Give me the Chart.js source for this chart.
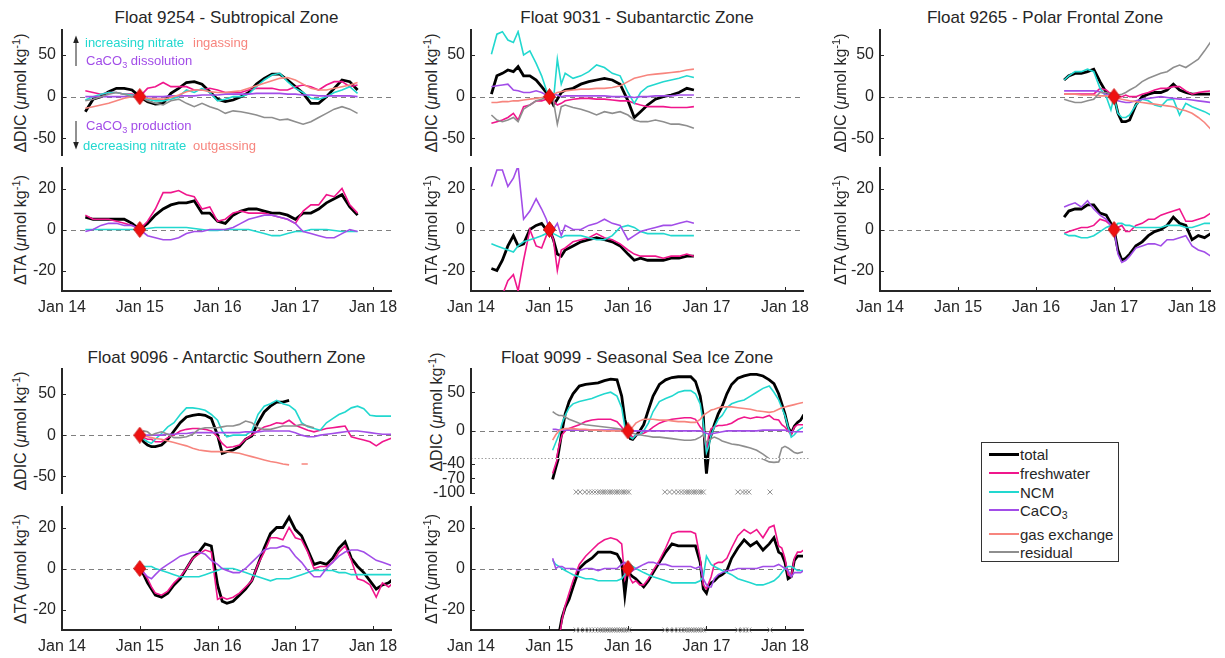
<!DOCTYPE html>
<html>
<head>
<meta charset="utf-8">
<script src="https://cdn.jsdelivr.net/npm/chart.js@4.4.1/dist/chart.umd.min.js"></script>
<style>
  body { margin: 0; background: #fff; }
  #fig { position: relative; width: 1225px; height: 658px; overflow: hidden;
         font-family: "Liberation Sans", Arial, Helvetica, sans-serif; color: #262626; }
  #fig canvas { position: absolute; }
  .title { position: absolute; font-size: 17px; white-space: nowrap; transform: translate(-50%, -50%); }
  .ylab { position: absolute; font-size: 16px; white-space: nowrap; transform: translate(-50%, -50%) rotate(-90deg); }
  .note { position: absolute; font-size: 13px; white-space: nowrap; transform: translateY(-50%); }
  sub { font-size: 70%; vertical-align: -0.35em; line-height: 0; }
  sup { font-size: 70%; vertical-align: 0.55em; line-height: 0; }
  #legend { position: absolute; left: 981px; top: 442px; width: 136px; height: 118px;
            border: 1.5px solid #333; background: #fff; }
  #legend .row { position: absolute; left: 0; font-size: 15px; white-space: nowrap; }
  #legend .sw { position: absolute; left: 7px; width: 30px; }
  #legend .tx { position: absolute; left: 38px; transform: translateY(-50%); }
</style>
</head>
<body>
<div id="fig">
  <svg width="1225" height="658" style="position:absolute;left:0;top:0">
    <line x1="76" y1="66" x2="76" y2="41" stroke="#222" stroke-width="1"/>
    <path d="M73.2,43 L76,35.5 L78.8,43 Z" fill="#222"/>
    <line x1="76" y1="121" x2="76" y2="144" stroke="#222" stroke-width="1"/>
    <path d="M73.2,142 L76,149.5 L78.8,142 Z" fill="#222"/>
  </svg>
</div>
<script>
// ---- axes ----
const yearTicks = [2014, 2015, 2016, 2017, 2018];
const yearLabels = ['Jan 14', 'Jan 15', 'Jan 16', 'Jan 17', 'Jan 18'];
const dicTicks = [-50, 0, 50];
const taTicks = [-20, 0, 20];
const dicUpperTicks = [0, 50];
const dicLowerTicks = [-100, -70, -40];

// ---- Float 9254 ----
const t9254 = [2014.3, 2014.4, 2014.5, 2014.6, 2014.7, 2014.8, 2014.9, 2015.0, 2015.1, 2015.2, 2015.3, 2015.4,
  2015.5, 2015.6, 2015.7, 2015.8, 2015.9, 2016.0, 2016.1, 2016.2, 2016.3, 2016.4, 2016.5, 2016.6, 2016.7,
  2016.8, 2016.9, 2017.0, 2017.1, 2017.2, 2017.3, 2017.4, 2017.5, 2017.6, 2017.7, 2017.8];
const dic9254Total = [-18, -3, 0, 6, 10, 10, 8, 0, -6, -9, -8, 4, 10, 17, 18, 15, 6, -3, -6, -4, 0, 5, 15, 22, 27, 27, 20, 12, 4, -8, -8, 0, 10, 20, 18, 8];
const dic9254Fresh = [7, 5, 3, 5, 5, 3, 3, 0, 10, 12, 17, 12, 12, 12, 8, 8, 10, 8, 5, 5, 5, 8, 10, 10, 10, 8, 8, 12, 14, 12, 8, 14, 18, 18, 12, 14];
const dic9254Ncm = [-4, 0, 3, 5, 5, 3, 2, 0, -3, -5, -5, -3, 0, 8, 5, 10, 5, -5, -3, 0, 0, 3, 12, 20, 26, 28, 18, 10, 5, -2, -3, 0, 5, 8, 12, 4];
const dic9254Caco3 = [0, 0, 0, 0, 0, 0, 0, 0, 0, 0, 0, 1, 1, 1, 1, 2, 2, 2, 3, 3, 3, 3, 4, 4, 4, 4, 3, 3, 2, 2, 1, 1, 1, 1, 1, 0];
const dic9254Gas = [-14, -12, -10, -8, -5, -2, 0, 0, -2, -3, -3, -1, 2, 6, 8, 8, 6, 5, 5, 6, 7, 10, 13, 16, 19, 22, 23, 20, 15, 10, 8, 8, 10, 12, 14, 17];
const dic9254Resid = [-5, -3, 0, 3, 5, 3, 0, 0, -5, -8, -10, -5, -3, -8, -12, -8, -12, -15, -20, -17, -18, -20, -22, -25, -25, -28, -27, -30, -33, -30, -25, -20, -15, -12, -15, -20];
const ta9254Total = [6, 5, 5, 5, 5, 5, 3, 0, 3, 7, 10, 12, 13, 13, 14, 8, 8, 4, 3, 7, 9, 10, 10, 9, 8, 8, 7, 5, 8, 8, 10, 13, 15, 17, 11, 7];
const ta9254Fresh = [7, 5, 5, 5, 4, 3, 2, 0, 4, 10, 18, 18, 19, 17, 16, 10, 11, 4, 5, 8, 9, 8, 8, 8, 7, 6, 5, 3, 9, 12, 12, 17, 16, 20, 12, 8];
const ta9254Ncm = [0, 0, 0, 0, 0, 0, 0, 0, 0.5, 1, 1, 1, 1, 1, 0.5, 0, -0.5, -0.5, 0, 0, 0, 0, -1, -2, -3, -3, -2, -1, -1, 0, 0, 0, -0.5, -1, -1, -1];
const ta9254Caco3 = [-1, 0, 2, 3, 3, 2, 2, 0, -3, -4, -5, -5, -4, -2, -1, -1, 0, 0, 0, 1, 3, 5, 6, 7, 7, 6, 5, 3, -1, -2, -3, -4, -4, -2, 0, -1];

// ---- Float 9031 ----
const t9031 = [2014.26, 2014.33, 2014.40, 2014.47, 2014.54, 2014.60, 2014.67, 2014.75, 2014.83, 2014.90, 2014.96,
  2015.00, 2015.05, 2015.10, 2015.15, 2015.20, 2015.30, 2015.40, 2015.50, 2015.60, 2015.70, 2015.80, 2015.90,
  2016.00, 2016.08, 2016.16, 2016.25, 2016.35, 2016.45, 2016.55, 2016.65, 2016.75, 2016.84];
const dic9031Total = [3, 25, 28, 32, 30, 36, 25, 25, 20, 12, 5, 0, -10, -3, 5, 8, 10, 15, 18, 20, 22, 20, 15, -5, -25, -18, -10, -3, 0, 2, 5, 10, 8];
const dic9031Fresh = [-32, -30, -28, -25, -20, -28, -12, -10, -5, -5, -3, 0, -5, -10, -8, -5, -3, -2, -2, -3, -3, -4, -5, -5, -8, -10, -12, -12, -12, -13, -13, -13, -12];
const dic9031Ncm = [51, 75, 78, 68, 65, 78, 50, 55, 40, 25, 8, 0, -5, 45, 15, 28, 22, 25, 30, 38, 35, 28, 25, 5, -8, 5, 12, 15, 18, 20, 22, 25, 23];
const dic9031Caco3 = [12, 13, 14, 15, 8, 7, 5, 5, 7, 5, 2, 0, 3, 2, 0, 1, 1, 1, 1, 1, 1, 0, 0, 0, -1, 0, 0, 1, 1, 1, 2, 2, 2];
const dic9031Gas = [-7, -7, -6, -6, -5, -5, -4, -3, -2, -1, 0, 0, 3, 5, 6, 7, 8, 9, 9, 10, 10, 11, 13, 18, 22, 24, 26, 27, 28, 29, 30, 32, 33];
const dic9031Resid = [-22, -28, -30, -28, -25, -30, -15, -10, -5, -3, 0, 0, -5, -33, -12, -10, -13, -15, -18, -22, -18, -20, -18, -22, -28, -30, -30, -28, -30, -33, -33, -35, -38];
const ta9031Total = [-19, -20, -15, -8, -3, -8, -7, 0, 2, 3, 0, 0, -5, -12, -13, -10, -8, -6, -5, -4, -5, -6, -8, -12, -15, -14, -15, -15, -15, -14, -14, -13, -13];
const ta9031Fresh = [-40, -38, -32, -25, -22, -30, -15, 0, -8, -9, -3, 0, -5, -20, -10, -9, -6, -5, -4, -2, -4, -5, -7, -10, -12, -13, -13, -13, -14, -13, -13, -12, -13];
const ta9031Ncm = [-7, -8, -9, -10, -11, -8, -6, -5, -4, -3, -2, 0, -2, -3, -4, -3, -3, -3, -4, -5, -5, -3, 1, 2, 1, -1, -2, -2, -2, -3, -3, -3, -3];
const ta9031Caco3 = [21, 29, 29, 21, 25, 31, 5, 9, 15, 10, 5, 0, 0, 3, -3, 2, 0, 0, 2, 3, 5, 3, 2, -5, -3, -1, 0, 1, 2, 2, 3, 4, 3];

// ---- Float 9265 ----
const t9265 = [2016.36, 2016.42, 2016.50, 2016.58, 2016.66, 2016.74, 2016.82, 2016.90, 2016.96, 2017.00,
  2017.05, 2017.10, 2017.15, 2017.20, 2017.28, 2017.36, 2017.44, 2017.52, 2017.60, 2017.68, 2017.76, 2017.84, 2017.92,
  2018.00, 2018.08, 2018.16, 2018.24];
const dic9265Total = [20, 25, 28, 28, 30, 33, 18, 5, 3, 0, -20, -30, -30, -28, -10, 0, 3, 5, 5, 8, 15, 8, 5, 3, 3, 3, 3];
const dic9265Fresh = [3, 3, 3, 3, 3, 3, 10, 8, 3, 0, 0, 0, 2, 0, 0, 3, 5, 8, 10, 10, 12, 12, 7, 3, 5, 6, 7];
const dic9265Ncm = [20, 25, 30, 30, 33, 30, 10, 0, -16, 0, -20, -25, -25, -22, -10, -3, -5, -10, -12, -4, -3, -22, -8, -12, -15, -18, -22];
const dic9265Caco3 = [7, 7, 7, 7, 7, 7, 6, 3, 2, 0, -5, -6, -7, -7, -5, -3, -2, -1, 0, -1, -2, -3, -3, -4, -5, -6, -7];
const dic9265Gas = [3, 3, 3, 2, 2, 2, 1, 1, 0, 0, -2, -3, -4, -5, -6, -7, -8, -9, -10, -11, -12, -15, -17, -20, -25, -31, -39];
const dic9265Resid = [-3, -5, -7, -7, -5, -3, 5, 5, 3, 0, 2, 3, 5, 8, 12, 18, 22, 25, 28, 30, 35, 38, 35, 40, 45, 55, 66];
const ta9265Total = [6, 9, 10, 10, 12, 12, 8, 7, 3, 0, -10, -15, -14, -12, -8, -6, -3, -1, 0, 2, 6, 3, 2, -5, -3, -4, -2];
const ta9265Fresh = [-2, -1, 0, 1, 1, 2, 5, 4, 2, 0, 1, 2, -1, -1, 2, 3, 5, 5, 7, 8, 9, 10, 4, 4, 5, 6, 8];
const ta9265Ncm = [-2, -3, -3, -4, -4, -3, -1, 1, 2, 1, 3, 3, 2, 2, 1, 1, 1, 1, 1, 2, 2, 2, 1, 1, 2, 3, 3];
const ta9265Caco3 = [11, 12, 13, 11, 14, 10, 7, 5, 2, 0, -12, -16, -15, -13, -9, -8, -7, -7, -8, -5, -5, -4, -3, -8, -10, -11, -13];

// ---- Float 9096 ----
const t9096 = [2015.00, 2015.05, 2015.10, 2015.15, 2015.20, 2015.28, 2015.36, 2015.44, 2015.52, 2015.60, 2015.68, 2015.76, 2015.84, 2015.92,
  2016.00, 2016.06, 2016.12, 2016.20, 2016.28, 2016.36, 2016.44, 2016.52, 2016.60, 2016.68, 2016.76, 2016.84, 2016.92,
  2017.00, 2017.08, 2017.16, 2017.24, 2017.32, 2017.40, 2017.48, 2017.56, 2017.64, 2017.72, 2017.80, 2017.88, 2017.96,
  2018.04, 2018.12, 2018.20, 2018.26];
const dic9096Total = [0, -8, -12, -14, -14, -12, -5, 5, 15, 22, 24, 25, 24, 20,
  0, -22, -20, -18, -14, -5, -1, 15, 28, 35, 40, 40, 42,
  null, null, null, null, null, null, null, null, null, null, null, null, null,
  null, null, null, null];
const dic9096Fresh = [0, -3, -5, -5, -8, -8, -3, 0, 5, 7, 8, 8, 7, 5,
  -2, -10, -15, -14, -12, -5, 0, 5, 10, 12, 15, 14, 18,
  12, 9, 6, 4, 6, 8, 9, 10, 11, -2, -4, -6, -8,
  -13, -8, -5, -3];
const dic9096Ncm = [0, -5, -8, -10, -5, 2, 10, 15, 25, 33, 33, 32, 30, 25,
  18, 5, -2, 0, 0, 0, 5, 25, 35, 38, 42, 38, 36,
  30, 15, 10, 8, 6, 15, 20, 25, 28, 33, 35, 32, 24,
  23, 23, 23, 23];
const dic9096Caco3 = [0, 0, 0, 0, 0, 0, 1, 1, 2, 2, 3, 3, 3, 3,
  3, 3, 3, 3, 3, 4, 4, 4, 5, 5, 5, 5, 5,
  3, 0, -2, -2, 0, 1, 2, 3, 4, 5, 5, 4, 3,
  2, 1, 1, 1];
const dic9096Gas = [0, -1, -2, -3, -4, -5, -7, -9, -11, -13, -16, -18, -19, -20,
  -20, -20, -20, -21, -22, -24, -26, -28, -30, -32, -33, -35, -36,
  null, -35, -35, null, null, null, null, null, null, null, null, null, null,
  null, null, null, null];
const dic9096Resid = [0, 5, 4, 0, 2, 4, 1, -3, -3, -2, 1, 7, 9, 9,
  9, 10, 11, 11, 13, 17, 15, 9, 7, 7, 9, 11, 11,
  11, 13, 11, 9, null, null, null, null, null, null, null, null, null,
  null, null, null, null];
const ta9096Total = [0, -3, -7, -10, -13, -14, -12, -8, -5, 0, 5, 8, 12, 11,
  -8, -16, -17, -16, -13, -10, -6, 2, 10, 17, 20, 20, 25,
  19, 16, 9, 2, 3, 2, 5, 10, 13, 5, 1, -2, -6,
  -10, -8, -7, -5];
const ta9096Fresh = [0, -2, -5, -9, -12, -13, -11, -7, -4, 0, 5, 7, 9, 8,
  -15, -14, -15, -14, -12, -9, -6, 2, 8, 15, 15, 14, 20,
  15, 14, 8, 0, 1, 1, 3, 8, 11, 4, -5, -6, -8,
  -14, -7, -9, -7];
const ta9096Ncm = [1, 1, 1, 1, 0, -1, -2, -3, -4, -4, -4, -4, -3, -2,
  -1, 0, 0, 0, -1, -2, -3, -4, -5, -6, -5, -5, -5,
  -4, -3, -2, -1, -1, -1, -1, -2, -2, -3, -3, -3, -3,
  -3, -3, -3, -3];
const ta9096Caco3 = [0, -2, -4, -5, -3, 0, 2, 4, 6, 7, 8, 8, 7, 4,
  2, 0, -1, -2, -2, 0, 3, 6, 9, 10, 10, 11, 10,
  6, 3, -1, -4, -4, 0, 3, 6, 8, 9, 9, 8, 6,
  4, 3, 2, 1];

// ---- Float 9099 ----
const t9099 = [2015.04, 2015.08, 2015.12, 2015.16, 2015.20, 2015.25, 2015.30, 2015.38, 2015.46, 2015.54, 2015.62, 2015.70, 2015.78, 2015.86, 2015.92, 2015.96,
  2016.00, 2016.03, 2016.06, 2016.10, 2016.15, 2016.20, 2016.26, 2016.32, 2016.40, 2016.48, 2016.56, 2016.64, 2016.72, 2016.80, 2016.86, 2016.92, 2016.96,
  2017.00, 2017.03, 2017.06, 2017.10, 2017.15, 2017.20, 2017.26, 2017.32, 2017.40, 2017.48, 2017.56, 2017.64, 2017.72, 2017.80, 2017.86, 2017.92, 2017.96,
  2018.00, 2018.04, 2018.08, 2018.12, 2018.16, 2018.20, 2018.24];
const dic9099Total = [-72, -48, -25, 0, 22, 38, 48, 58, 60, 61, 62, 65, 67, 66, 45, 15,
  0, -10, -11, -6, 0, 8, 27, 45, 60, 66, 69, 70, 70, 70, 64, 45, 19,
  -60, -15, -5, 8, 22, 32, 48, 60, 68, 71, 73, 73, 71, 66, 61, 48, 35,
  22, 5, -3, 6, 11, 14, 21];
const dic9099Fresh = [-60, -40, -20, -5, 0, 3, 5, 8, 12, 14, 15, 15, 15, 12, 5, -2,
  0, -5, -8, -6, -4, -3, 0, 5, 10, 13, 15, 16, 17, 17, 15, 5, 0,
  -25, -5, 3, 5, 7, 7, 8, 10, 15, 18, 16, 18, 17, 20, 15, 14, 8,
  5, 0, -5, 5, 8, 8, 8];
const dic9099Ncm = [-25, -15, -5, 10, 20, 30, 35, 38, 40, 42, 45, 48, 50, 45, 30, 5,
  -3, -8, -10, -5, -5, 0, 10, 25, 38, 42, 45, 50, 52, 52, 48, 35, 10,
  -28, -20, -5, 5, 15, 20, 30, 35, 38, 40, 45, 50, 55, 58, 50, 40, 30,
  20, 5, -8, -5, 0, 3, 5];
const dic9099Caco3 = [2, 2, 1, 1, 1, 1, 1, 1, 1, 1, 1, 1, 1, 1, 0, 0,
  0, 0, 0, 0, 0, 0, 0, 0, 0, 0, 0, 0, 0, 0, 0, 0, -1,
  -3, -4, -4, -3, -2, -1, 0, 0, 0, 0, 0, 0, 1, 1, 1, 1, 1,
  1, 0, -1, -1, -1, -1, -1];
const dic9099Gas = [-12, -5, 0, 2, 3, 3, 3, 2, 2, 1, 1, 0, 0, 0, 0, 0,
  0, 2, 5, 10, 13, 15, 15, 15, 14, 14, 13, 12, 12, 11, 11, 15, 20,
  23, 25, 27, 28, 30, 31, 31, 31, 30, 29, 28, 26, 25, 24, 25, 28, 30,
  31, 32, 33, 34, 35, 36, 37];
const dic9099Resid = [25, 22, 20, 20, 18, 15, 13, 10, 8, 7, 6, 5, 4, 3, 2, 1,
  0, -2, -3, -4, -5, -6, -7, -8, -8, -9, -10, -11, -12, -12, -11, -8, -5,
  -15, -12, -10, -8, -10, -13, -15, -17, -18, -20, -22, -25, -30, -36, -37, -36, -22,
  -20, -22, -25, -28, -29, -28, -27];
const ta9099Total = [-45, -38, -32, -24, -19, -15, -9, 0, 3, 5, 8, 8, 8, 7, 3, -13,
  0, -3, -4, -5, -7, -9, -6, -2, 3, 8, 12, 11, 11, 11, 11, 3, -10,
  -12, -8, -7, -6, -4, -3, -1, 5, 10, 14, 11, 13, 9, 12, 15, 8, 7,
  3, -5, -4, 4, 6, 6, 6];
const ta9099Fresh = [-45, -40, -35, -25, -18, -12, -6, 2, 6, 9, 12, 14, 15, 14, 12, -5,
  0, -5, -7, -6, -8, -8, -5, -1, 4, 10, 17, 18, 18, 18, 17, 5, -8,
  -10, -7, -4, 2, 3, 3, 5, 10, 16, 19, 17, 19, 15, 20, 21, 11, 10,
  5, -3, -4, 5, 8, 8, 9];
const ta9099Ncm = [4, 2, 1, 0, -1, -2, -3, -4, -5, -5, -6, -6, -6, -6, -5, -3,
  0, 2, 1, 0, -1, -2, -3, -4, -5, -6, -7, -7, -7, -7, -7, -6, -4,
  6, 4, 2, 1, 0, -1, -2, -3, -5, -6, -7, -8, -8, -7, -6, -4, -2,
  0, 1, 1, 0, -1, -1, -1];
const ta9099Caco3 = [5, 0, 1, 1, 0, 0, 0, -1, 0, 0, -1, 0, 0, 0, 2, 3,
  0, -2, -1, 0, 1, 2, 3, 3, 2, 2, 1, 1, 1, 1, 0, 1, -5,
  -8, -9, -9, -5, -3, -2, -1, -1, 0, 0, 0, 0, 1, 1, 1, 2, 1,
  0, -1, -4, -2, -2, -2, -1];
// profiles flagged as under sea ice
const iceDates = [2015.34, 2015.39, 2015.45, 2015.50, 2015.54, 2015.58, 2015.62, 2015.65, 2015.68, 2015.71,
  2015.74, 2015.77, 2015.80, 2015.83, 2015.86, 2015.89, 2015.92, 2015.95, 2015.98, 2016.01,
  2016.47, 2016.53, 2016.59, 2016.64, 2016.68, 2016.72, 2016.75, 2016.78, 2016.81, 2016.84,
  2016.87, 2016.90, 2016.93, 2016.96, 2017.40, 2017.46, 2017.50, 2017.54, 2017.81];

// reference dates (all terms zero there)
const ref9254 = 2015.0, ref9031 = 2015.0, ref9265 = 2017.0, ref9096 = 2015.0, ref9099 = 2016.0;

// ---- styling ----
const AXIS = '#262626';
const X_MIN = 2014, X_MAX = 2018.23;
const STYLE = {
  total: { label: 'total', color: '#000000', width: 2.8, order: 6 },
  fresh: { label: 'freshwater', color: '#F0168C', width: 1.6, order: 5 },
  ncm:   { label: 'NCM', color: '#22D8CF', width: 1.6, order: 4 },
  caco3: { label: 'CaCO<sub>3</sub>', color: '#A24DE8', width: 1.6, order: 3 },
  gas:   { label: 'gas exchange', color: '#F7857E', width: 1.6, order: 2 },
  resid: { label: 'residual', color: '#8E8E8E', width: 1.6, order: 1 }
};

Chart.defaults.font.family = '"Liberation Sans", Arial, Helvetica, sans-serif';
Chart.defaults.color = AXIS;

const diamondImg = document.createElement('canvas');
diamondImg.width = 13; diamondImg.height = 17;
(() => {
  const d = diamondImg.getContext('2d');
  d.beginPath();
  d.moveTo(6.5, 0.5); d.lineTo(12.5, 8.5); d.lineTo(6.5, 16.5); d.lineTo(0.5, 8.5);
  d.closePath();
  d.fillStyle = '#EE1111'; d.fill();
  d.strokeStyle = '#C80000'; d.lineWidth = 0.8; d.stroke();
})();

function line(t, values, key) {
  const s = STYLE[key];
  return {
    data: t.map((x, i) => ({ x, y: values[i] })),
    borderColor: s.color, borderWidth: s.width, pointRadius: 0,
    tension: 0, fill: false, order: s.order
  };
}
function refPoint(date) {
  return { data: [{ x: date, y: 0 }], showLine: false, pointStyle: diamondImg,
           pointRadius: 8, order: 0, clip: false };
}
function iceMarks(level) {
  return { data: iceDates.map(x => ({ x, y: level })), showLine: false, pointStyle: 'crossRot',
           pointRadius: 3.5, borderColor: '#8f8f8f', borderWidth: 1, order: 7, clip: false };
}

// dashed zero line, inward tick marks and the axis break line
const axisMarks = {
  id: 'axisMarks',
  beforeDatasetsDraw(chart, args, o) {
    if (!o.zero) return;
    const { ctx, chartArea: a, scales: { y } } = chart;
    const py = Math.round(y.getPixelForValue(0)) + 0.5;
    ctx.save();
    ctx.strokeStyle = '#808080'; ctx.lineWidth = 1; ctx.setLineDash([5, 4]);
    ctx.beginPath(); ctx.moveTo(a.left, py); ctx.lineTo(a.right, py); ctx.stroke();
    ctx.restore();
  },
  afterDraw(chart, args, o) {
    const { ctx, chartArea: a, scales: { x, y } } = chart;
    ctx.save();
    ctx.strokeStyle = AXIS; ctx.lineWidth = 1;
    ctx.beginPath();
    y.ticks.forEach(t => {
      const py = Math.round(y.getPixelForValue(t.value)) + 0.5;
      ctx.moveTo(a.left, py); ctx.lineTo(a.left + 4, py);
    });
    if (x.options.display) {
      x.ticks.forEach(t => {
        const px = Math.round(x.getPixelForValue(t.value)) + 0.5;
        ctx.moveTo(px, a.bottom); ctx.lineTo(px, a.bottom - 4);
      });
    }
    ctx.stroke();
    if (o.breakLine) {
      ctx.strokeStyle = '#a0a0a0'; ctx.setLineDash([1.5, 2]);
      ctx.beginPath(); ctx.moveTo(a.left, a.bottom + 0.5); ctx.lineTo(a.right + 6, a.bottom + 0.5); ctx.stroke();
    }
    ctx.restore();
  }
};

const fig = document.getElementById('fig');
const PAD_L = 52, PAD_T = 12, PAD_R = 16, PAD_B = 12, X_H = 30;

function makeChart(box, yRange, yTicks, datasets, opts = {}) {
  const cv = document.createElement('canvas');
  cv.width = PAD_L + box.right - box.left + PAD_R;
  cv.height = PAD_T + box.bottom - box.top + (opts.showX ? X_H : PAD_B);
  cv.style.left = (box.left - PAD_L) + 'px';
  cv.style.top = (box.top - PAD_T) + 'px';
  fig.appendChild(cv);
  return new Chart(cv, {
    type: 'line',
    data: { datasets },
    options: {
      responsive: false,
      animation: false,
      events: [],
      layout: { padding: { left: 0, top: PAD_T, right: PAD_R, bottom: opts.showX ? 0 : PAD_B } },
      plugins: {
        legend: { display: false },
        tooltip: { enabled: false },
        axisMarks: { zero: opts.zero !== false, breakLine: !!opts.breakLine }
      },
      scales: {
        x: {
          type: 'linear', min: X_MIN, max: X_MAX, display: !!opts.showX,
          afterBuildTicks: s => { s.ticks = yearTicks.map(v => ({ value: v })); },
          afterFit: s => { if (opts.showX) s.height = X_H; s.paddingLeft = 0; s.paddingRight = 0; },
          ticks: { callback: (v, i) => yearLabels[i], padding: 7, maxRotation: 0, autoSkip: false,
                   font: { size: 16 }, color: AXIS },
          grid: { drawOnChartArea: false, drawTicks: false },
          border: { color: AXIS, width: 2 }
        },
        y: {
          type: 'linear', min: yRange[0], max: yRange[1],
          afterBuildTicks: s => { s.ticks = yTicks.map(v => ({ value: v })); },
          afterFit: s => { s.width = PAD_L; s.paddingTop = 0; s.paddingBottom = 0; },
          ticks: { padding: 6, autoSkip: false, font: { size: 16 }, color: AXIS },
          grid: { drawOnChartArea: false, drawTicks: false },
          border: { color: AXIS, width: 2 }
        }
      }
    },
    plugins: [axisMarks]
  });
}

function addText(cls, html, left, top, color) {
  const el = document.createElement('div');
  el.className = cls;
  el.innerHTML = html;
  el.style.left = left + 'px';
  el.style.top = top + 'px';
  if (color) el.style.color = color;
  fig.appendChild(el);
}

const COLS = [{ left: 62, right: 391, lab: 21 }, { left: 471, right: 803, lab: 432 }, { left: 880, right: 1210, lab: 841 }];
const ROWS = [
  { dicTop: 30, dicBottom: 155, taTop: 168, taBottom: 291, title: 18 },
  { dicTop: 369, dicBottom: 493, taTop: 507, taBottom: 630, title: 358 }
];
const DIC_LAB = '&Delta;DIC (<i>&mu;</i>mol kg<sup>-1</sup>)';
const TA_LAB = '&Delta;TA (<i>&mu;</i>mol kg<sup>-1</sup>)';

function dicSets(t, total, fresh, ncm, caco3, gas, resid) {
  return [line(t, total, 'total'), line(t, fresh, 'fresh'), line(t, ncm, 'ncm'),
          line(t, caco3, 'caco3'), line(t, gas, 'gas'), line(t, resid, 'resid')];
}
function taSets(t, total, fresh, ncm, caco3) {
  return [line(t, total, 'total'), line(t, fresh, 'fresh'), line(t, ncm, 'ncm'), line(t, caco3, 'caco3')];
}

function panel(col, row, title, dic, ta, ref) {
  const c = COLS[col], r = ROWS[row];
  addText('title', title, (c.left + c.right) / 2, r.title);
  addText('ylab', DIC_LAB, c.lab, (r.dicTop + r.dicBottom) / 2);
  addText('ylab', TA_LAB, c.lab, (r.taTop + r.taBottom) / 2);
  makeChart({ left: c.left, right: c.right, top: r.dicTop, bottom: r.dicBottom }, [-70, 80], dicTicks,
            [refPoint(ref), ...dic]);
  makeChart({ left: c.left, right: c.right, top: r.taTop, bottom: r.taBottom }, [-30, 30], taTicks,
            [refPoint(ref), ...ta], { showX: true });
}

panel(0, 0, 'Float 9254 - Subtropical Zone',
  dicSets(t9254, dic9254Total, dic9254Fresh, dic9254Ncm, dic9254Caco3, dic9254Gas, dic9254Resid),
  taSets(t9254, ta9254Total, ta9254Fresh, ta9254Ncm, ta9254Caco3), ref9254);
panel(1, 0, 'Float 9031 - Subantarctic Zone',
  dicSets(t9031, dic9031Total, dic9031Fresh, dic9031Ncm, dic9031Caco3, dic9031Gas, dic9031Resid),
  taSets(t9031, ta9031Total, ta9031Fresh, ta9031Ncm, ta9031Caco3), ref9031);
panel(2, 0, 'Float 9265 - Polar Frontal Zone',
  dicSets(t9265, dic9265Total, dic9265Fresh, dic9265Ncm, dic9265Caco3, dic9265Gas, dic9265Resid),
  taSets(t9265, ta9265Total, ta9265Fresh, ta9265Ncm, ta9265Caco3), ref9265);
panel(0, 1, 'Float 9096 - Antarctic Southern Zone',
  dicSets(t9096, dic9096Total, dic9096Fresh, dic9096Ncm, dic9096Caco3, dic9096Gas, dic9096Resid),
  taSets(t9096, ta9096Total, ta9096Fresh, ta9096Ncm, ta9096Caco3), ref9096);

// Float 9099: DIC axis is broken below -35
(() => {
  const c = COLS[1], r = ROWS[1];
  addText('title', 'Float 9099 - Seasonal Sea Ice Zone', (c.left + c.right) / 2, r.title);
  addText('ylab', DIC_LAB, 437, 412);
  addText('ylab', TA_LAB, c.lab, (r.taTop + r.taBottom) / 2);
  const dic = () => dicSets(t9099, dic9099Total, dic9099Fresh, dic9099Ncm, dic9099Caco3, dic9099Gas, dic9099Resid);
  makeChart({ left: c.left, right: c.right, top: 369, bottom: 458 }, [-35, 80], dicUpperTicks,
            [refPoint(ref9099), ...dic()], { breakLine: true });
  makeChart({ left: c.left, right: c.right, top: 459, bottom: 493 }, [-100, -30], dicLowerTicks,
            [...dic(), iceMarks(-98)], { zero: false });
  makeChart({ left: c.left, right: c.right, top: r.taTop, bottom: r.taBottom }, [-30, 30], taTicks,
            [refPoint(ref9099), ...taSets(t9099, ta9099Total, ta9099Fresh, ta9099Ncm, ta9099Caco3), iceMarks(-30)],
            { showX: true });
})();

// process annotations, Float 9254 DIC
addText('note', 'increasing nitrate', 85, 42, STYLE.ncm.color);
addText('note', 'ingassing', 193, 42, STYLE.gas.color);
addText('note', 'CaCO<sub>3</sub> dissolution', 86, 60, STYLE.caco3.color);
addText('note', 'CaCO<sub>3</sub> production', 86, 125, STYLE.caco3.color);
addText('note', 'decreasing nitrate', 83, 145, STYLE.ncm.color);
addText('note', 'outgassing', 193, 145, STYLE.gas.color);

// legend
(() => {
  const lg = document.createElement('div');
  lg.id = 'legend';
  const rowY = { total: 11, fresh: 30, ncm: 49, caco3: 67, gas: 91, resid: 109 };
  Object.keys(STYLE).forEach(k => {
    const s = STYLE[k];
    const row = document.createElement('div');
    row.className = 'row';
    row.style.top = rowY[k] + 'px';
    const h = s.width > 2 ? 3 : 2;
    row.innerHTML = `<div class="sw" style="top:${-h / 2}px;height:${h}px;background:${s.color}"></div>` +
                    `<div class="tx">${s.label}</div>`;
    lg.appendChild(row);
  });
  fig.appendChild(lg);
})();
</script>
</body>
</html>
